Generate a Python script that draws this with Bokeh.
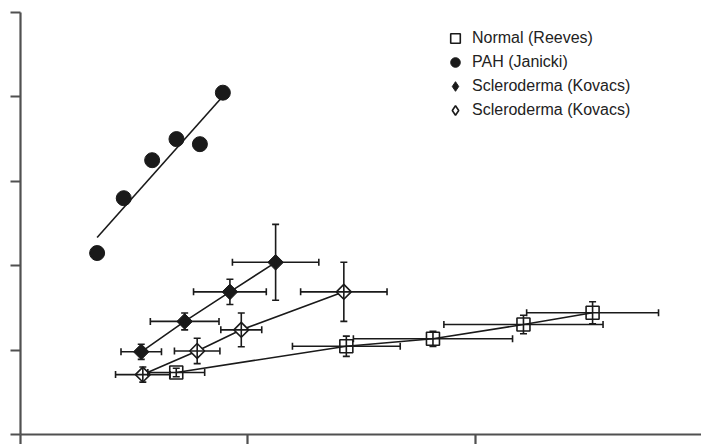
from bokeh.plotting import figure
from bokeh.models import (ColumnDataSource, Whisker, TeeHead, FixedTicker, Range1d,
                          Legend, LegendItem, CustomLabelingPolicy)
from bokeh.embed import file_html
from bokeh.resources import INLINE
import numpy as np

# ---- data ----
x_ticks = [0, 1, 2, 3]
y_ticks = [0, 1, 2, 3, 4, 5]

normal_name = "Normal (Reeves)"
normal_x = [0.685, 1.433, 1.814, 2.212, 2.516]
normal_y = [0.735, 1.046, 1.134, 1.303, 1.442]
normal_xerr = [0.125, 0.237, 0.35, 0.35, 0.29]
normal_yerr = [0.05, 0.12, 0.09, 0.11, 0.13]

pah_name = "PAH (Janicki)"
pah_x = [0.337, 0.454, 0.579, 0.686, 0.789, 0.890]
pah_y = [2.15, 2.80, 3.25, 3.50, 3.44, 4.05]

sclf_name = "Scleroderma (Kovacs)"
sclf_x = [0.531, 0.722, 0.921, 1.122]
sclf_y = [0.98, 1.34, 1.69, 2.04]
sclf_xerr = [0.089, 0.151, 0.16, 0.19]
sclf_yerr = [0.09, 0.10, 0.15, 0.45]

sclo_name = "Scleroderma (Kovacs)"
sclo_x = [0.538, 0.777, 0.971, 1.422]
sclo_y = [0.71, 0.99, 1.24, 1.69]
sclo_xerr = [0.12, 0.10, 0.09, 0.19]
sclo_yerr = [0.09, 0.15, 0.20, 0.35]

# ---- figure ----
p = figure(width=701, height=444, output_backend="svg", toolbar_location=None,
           x_range=Range1d(0, 2.995), y_range=Range1d(0, 5),
           min_border_left=20, min_border_right=0, min_border_top=12, min_border_bottom=10)
p.grid.visible = False
p.outline_line_color = None
p.background_fill_color = "white"
p.border_fill_color = "white"

no_labels = CustomLabelingPolicy(code="""
if (typeof indices.clear === 'function') { indices.clear() }
else { for (const i of Array.from(indices)) { indices.unset(i) } }
return indices
""")

for ax, ticks in ((p.xaxis, x_ticks), (p.yaxis, y_ticks)):
    ax.ticker = FixedTicker(ticks=ticks)
    ax.major_label_policy = no_labels
    ax.major_label_text_font_size = "0px"
    ax.major_label_standoff = 0
    ax.major_tick_out = 10
    ax.major_tick_in = 0
    ax.minor_tick_line_color = None
    ax.axis_line_color = "#505050"
    ax.axis_line_width = 2.2
    ax.major_tick_line_color = "#505050"
    ax.major_tick_line_width = 2.2

LC = "#1a1a1a"
LW = 1.6


def err_bars(x, y, xerr, yerr):
    src = ColumnDataSource(dict(
        x=x, y=y,
        xl=[a - e for a, e in zip(x, xerr)], xu=[a + e for a, e in zip(x, xerr)],
        yl=[a - e for a, e in zip(y, yerr)], yu=[a + e for a, e in zip(y, yerr)]))
    for dim, base, lo, up in (("width", "y", "xl", "xu"), ("height", "x", "yl", "yu")):
        w = Whisker(source=src, base=base, lower=lo, upper=up, dimension=dim,
                    line_color=LC, line_width=LW, level="overlay",
                    upper_head=TeeHead(size=7, line_color=LC, line_width=LW),
                    lower_head=TeeHead(size=7, line_color=LC, line_width=LW))
        p.add_layout(w)


# PAH fitted line
coef = np.polyfit(pah_x, pah_y, 1)
fx = np.array([min(pah_x), max(pah_x)])
p.line(fx, np.polyval(coef, fx), line_color=LC, line_width=LW)

# connecting lines
p.line(normal_x, normal_y, line_color=LC, line_width=LW)
p.line(sclf_x, sclf_y, line_color=LC, line_width=LW)
p.line(sclo_x, sclo_y, line_color=LC, line_width=LW)

err_bars(normal_x, normal_y, normal_xerr, normal_yerr)
err_bars(sclf_x, sclf_y, sclf_xerr, sclf_yerr)
err_bars(sclo_x, sclo_y, sclo_xerr, sclo_yerr)

r_norm = p.scatter(normal_x, normal_y, marker="square", size=13, fill_color=None,
                   line_color=LC, line_width=LW)
r_pah = p.scatter(pah_x, pah_y, marker="circle", size=15, fill_color=LC, line_color=LC)

# upright diamonds (used for the key), covered by the wider diamonds drawn on top
leg_sclf = p.scatter(sclf_x, sclf_y, marker="diamond", size=12, fill_color=LC, line_color=LC)
leg_sclo = p.scatter(sclo_x, sclo_y, marker="diamond", size=12, fill_color=None,
                     line_color=LC, line_width=LW)
p.scatter(sclf_x, sclf_y, marker="square", angle=np.pi / 4, size=11,
          fill_color=LC, line_color=LC)
p.scatter(sclo_x, sclo_y, marker="square", angle=np.pi / 4, size=10.5,
          fill_color="white", line_color=LC, line_width=LW)

legend = Legend(items=[LegendItem(label=normal_name, renderers=[r_norm]),
                       LegendItem(label=pah_name, renderers=[r_pah]),
                       LegendItem(label=sclf_name, renderers=[leg_sclf]),
                       LegendItem(label=sclo_name, renderers=[leg_sclo])],
                location=(423, 312), margin=0, padding=0, spacing=0,
                glyph_width=24, glyph_height=24, label_height=24, label_standoff=5,
                label_text_font="Liberation Sans", label_text_font_size="16px",
                label_text_color="#222222", border_line_color=None,
                background_fill_alpha=0)
p.add_layout(legend)

open("out.html", "w").write(file_html(p, INLINE))
